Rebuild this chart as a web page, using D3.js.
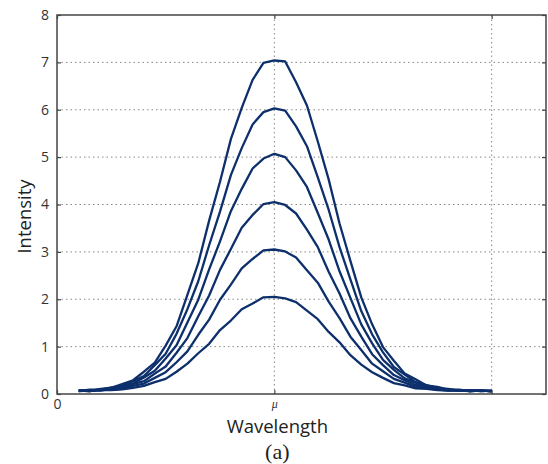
<!DOCTYPE html>
<html>
<head>
<meta charset="utf-8">
<script src="https://cdn.jsdelivr.net/npm/d3@7"></script>
<style>
  body { margin: 0; background: #fff; }
  .tick-label { font-family: "Open Sans", sans-serif; font-size: 14px; fill: #333; }
  .axis-title { font-family: "Open Sans", sans-serif; font-size: 18.5px; fill: #222; }
</style>
</head>
<body>
<div class="chart"></div>
<script>
// wavelength positions (mu = 400)
var wavelength = [40, 60, 80, 100, 120, 140, 160, 180, 200, 220, 240, 260, 280, 300, 320, 340, 360, 380,
  400, 420, 440, 460, 480, 500, 520, 540, 560, 580, 600, 620, 640, 660, 680, 700, 720, 740, 760, 780, 800];

var peak7 = [0.08, 0.06, 0.11, 0.13, 0.21, 0.29, 0.47, 0.66, 1.02, 1.43, 2.09, 2.76, 3.66, 4.48, 5.38, 6.04, 6.63, 6.99,
  7.04, 7.02, 6.58, 6.09, 5.33, 4.53, 3.60, 2.81, 2.04, 1.47, 0.99, 0.70, 0.43, 0.31, 0.18, 0.15, 0.09, 0.09, 0.06, 0.08, 0.05];
var peak6 = [0.06, 0.09, 0.09, 0.14, 0.17, 0.27, 0.38, 0.61, 0.85, 1.27, 1.79, 2.38, 3.14, 3.85, 4.62, 5.19, 5.69, 5.95,
  6.03, 5.98, 5.65, 5.23, 4.57, 3.89, 3.10, 2.42, 1.75, 1.26, 0.88, 0.57, 0.41, 0.25, 0.19, 0.12, 0.11, 0.07, 0.08, 0.06, 0.07];
var peak5 = [0.07, 0.06, 0.10, 0.11, 0.17, 0.22, 0.35, 0.49, 0.75, 1.03, 1.51, 1.99, 2.63, 3.22, 3.86, 4.33, 4.76, 4.97,
  5.07, 5.00, 4.72, 4.37, 3.82, 3.26, 2.59, 2.03, 1.47, 1.07, 0.72, 0.51, 0.33, 0.24, 0.15, 0.12, 0.08, 0.08, 0.06, 0.07, 0.06];
var peak4 = [0.07, 0.08, 0.07, 0.11, 0.13, 0.21, 0.27, 0.43, 0.58, 0.87, 1.18, 1.64, 2.08, 2.62, 3.06, 3.51, 3.78, 4.01,
  4.05, 3.99, 3.81, 3.47, 3.10, 2.58, 2.12, 1.60, 1.21, 0.84, 0.61, 0.40, 0.29, 0.19, 0.15, 0.09, 0.09, 0.07, 0.08, 0.06, 0.07];
var peak3 = [0.06, 0.07, 0.08, 0.10, 0.11, 0.17, 0.22, 0.34, 0.46, 0.67, 0.90, 1.25, 1.57, 1.99, 2.31, 2.65, 2.85, 3.03,
  3.05, 3.01, 2.88, 2.61, 2.35, 1.95, 1.60, 1.21, 0.93, 0.64, 0.48, 0.32, 0.24, 0.15, 0.12, 0.10, 0.07, 0.08, 0.06, 0.07, 0.06];
var peak2 = [0.07, 0.06, 0.08, 0.08, 0.10, 0.13, 0.17, 0.25, 0.32, 0.47, 0.64, 0.86, 1.06, 1.35, 1.55, 1.79, 1.91, 2.04,
  2.05, 2.02, 1.94, 1.76, 1.58, 1.31, 1.09, 0.82, 0.62, 0.46, 0.34, 0.23, 0.18, 0.12, 0.11, 0.08, 0.07, 0.07, 0.06, 0.07, 0.06];

var seriesList = [peak2, peak3, peak4, peak5, peak6, peak7];

var yTicks = [0, 1, 2, 3, 4, 5, 6, 7, 8];
var xTicks = [0, 400, 800];
var xTickLabels = ["0", "\u03bc", ""];

var svgWidth = 548;
var svgHeight = 464;
var margin = { top: 15, right: 2, bottom: 70, left: 57 };
var width = svgWidth - margin.left - margin.right;
var height = svgHeight - margin.top - margin.bottom;

var svg = d3.select(".chart")
  .append("svg")
  .attr("width", svgWidth)
  .attr("height", svgHeight)
  .append("g")
  .attr("transform", "translate(" + margin.left + "," + margin.top + ")");

var xScale = d3.scaleLinear().domain([0, 900]).range([0, width]);
var yScale = d3.scaleLinear().domain([0, 8]).range([height, 0]);

// grid lines (dotted)
svg.selectAll(".hgrid")
  .data(yTicks.slice(1, -1))
  .enter().append("line")
  .attr("x1", 0).attr("x2", width)
  .attr("y1", function(d) { return yScale(d); })
  .attr("y2", function(d) { return yScale(d); })
  .attr("stroke", "#888")
  .attr("stroke-width", 1)
  .attr("stroke-dasharray", "1.5,3");

svg.selectAll(".vgrid")
  .data(xTicks.slice(1))
  .enter().append("line")
  .attr("y1", 0).attr("y2", height)
  .attr("x1", function(d) { return xScale(d); })
  .attr("x2", function(d) { return xScale(d); })
  .attr("stroke", "#888")
  .attr("stroke-width", 1)
  .attr("stroke-dasharray", "1.5,3");

// curves
var line = d3.line()
  .x(function(d, i) { return xScale(wavelength[i]); })
  .y(function(d) { return yScale(d); });

svg.selectAll(".curve")
  .data(seriesList)
  .enter().append("path")
  .attr("d", line)
  .attr("fill", "none")
  .attr("stroke", "#0d2f6c")
  .attr("stroke-width", 2.3)
  .attr("stroke-linejoin", "round");

// inward ticks on all four sides
var leftAxis = d3.axisLeft(yScale).tickValues(yTicks).tickSizeInner(-4).tickSizeOuter(0).tickPadding(8);
var rightAxis = d3.axisRight(yScale).tickValues(yTicks).tickSizeInner(-4).tickSizeOuter(0).tickFormat("");
var bottomAxis = d3.axisBottom(xScale).tickValues(xTicks).tickSizeInner(-4).tickSizeOuter(0)
  .tickFormat(function(d, i) { return xTickLabels[i]; }).tickPadding(5);
var topAxis = d3.axisTop(xScale).tickValues(xTicks).tickSizeInner(-4).tickSizeOuter(0).tickFormat("");

function styleAxis(g) {
  g.select(".domain").remove();
  g.selectAll(".tick line").attr("stroke", "#444").attr("stroke-width", 1.2);
  g.selectAll("text").attr("class", "tick-label").attr("fill", "#333");
}

svg.append("g").call(leftAxis).call(styleAxis);
svg.append("g").attr("transform", "translate(" + width + ",0)").call(rightAxis).call(styleAxis);
var bx = svg.append("g").attr("transform", "translate(0," + height + ")").call(bottomAxis).call(styleAxis);
svg.append("g").call(topAxis).call(styleAxis);

bx.selectAll("text")
  .filter(function(d) { return d === 400; })
  .style("font-family", "'Liberation Serif', serif")
  .style("font-style", "italic")
  .style("font-size", "12px");

// frame
svg.append("rect")
  .attr("x", 0).attr("y", 0)
  .attr("width", width).attr("height", height)
  .attr("fill", "none")
  .attr("stroke", "#444")
  .attr("stroke-width", 1.5);

// titles
svg.append("text")
  .attr("class", "axis-title")
  .attr("text-anchor", "middle")
  .attr("x", xScale(400) + 3)
  .attr("y", height + 39)
  .text("Wavelength");

svg.append("text")
  .attr("class", "axis-title")
  .attr("text-anchor", "middle")
  .attr("transform", "translate(" + (-margin.left + 31) + "," + (yScale(4) + 12) + ") rotate(-90)")
  .text("Intensity");

svg.append("text")
  .attr("text-anchor", "middle")
  .attr("x", xScale(400) + 3)
  .attr("y", height + 65)
  .style("font-family", "'Liberation Serif', serif")
  .style("font-size", "22px")
  .attr("fill", "#222")
  .text("(a)");
</script>
</body>
</html>
